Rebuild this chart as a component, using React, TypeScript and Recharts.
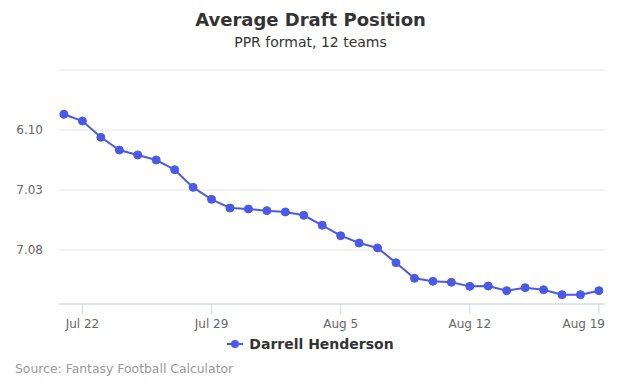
import React from 'react';
import { LineChart, Line, XAxis, YAxis, CartesianGrid } from 'recharts';

// days since Jul 21, one point per day
const days = [
  0, 1, 2, 3, 4, 5, 6, 7, 8, 9, 10, 11, 12, 13, 14,
  15, 16, 17, 18, 19, 20, 21, 22, 23, 24, 25, 26, 27, 28, 29,
];

// overall pick (12 teams) for Darrell Henderson
const adp = [
  68.69, 69.25, 70.61, 71.67, 72.08, 72.5, 73.31, 74.78, 75.78, 76.5,
  76.58, 76.72, 76.83, 77.11, 77.94, 78.81, 79.42, 79.83, 81.06, 82.36,
  82.61, 82.69, 83.03, 83.0, 83.39, 83.14, 83.31, 83.72, 83.72, 83.39,
];

const xTicks = [1, 8, 15, 22, 29];
const xTickLabels = ['Jul 22', 'Jul 29', 'Aug 5', 'Aug 12', 'Aug 19'];

const yTicks = [65, 70, 75, 80];
const yTickLabels = ['', '6.10', '7.03', '7.08'];

const seriesName = 'Darrell Henderson';
const color = '#4a5ae8';
const font = '"DejaVu Sans", sans-serif';

const data = days.map((d, i) => ({ day: d, adp: adp[i] }));

// last label is pulled in so it stays inside the plot, like the original
const XTick = (props: any) => {
  const { x, y, payload, index } = props;
  const label = xTickLabels[xTicks.indexOf(payload.value)] ?? '';
  const last = index === xTicks.length - 1;
  return (
    <text
      x={last ? 605 : x}
      y={y + 12}
      textAnchor={last ? 'end' : 'middle'}
      fill="#666"
      fontSize={12}
      fontFamily={font}
    >
      {label}
    </text>
  );
};

const App: React.FC = () => {
  return (
    <div style={{ position: 'absolute', left: 0, top: 0, width: 621, height: 388, background: '#fff', fontFamily: font }}>
      <div style={{ position: 'absolute', top: 9, width: 621, textAlign: 'center', fontSize: 18, fontWeight: 'bold', color: '#333' }}>
        Average Draft Position
      </div>
      <div style={{ position: 'absolute', top: 34, width: 621, textAlign: 'center', fontSize: 14, color: '#333' }}>
        PPR format, 12 teams
      </div>

      <LineChart
        width={621}
        height={388}
        data={data}
        margin={{ top: 70, right: 16, bottom: 54, left: 0 }}
        style={{ position: 'absolute', left: 0, top: 0 }}
      >
        <CartesianGrid vertical={false} stroke="#e6e6e6" />
        <XAxis
          dataKey="day"
          type="number"
          domain={[-0.27, 29.33]}
          ticks={xTicks}
          height={30}
          tickSize={10}
          tickMargin={2}
          axisLine={{ stroke: '#ccd6eb' }}
          tickLine={{ stroke: '#ccd6eb' }}
          tick={<XTick />}
          allowDataOverflow
        />
        <YAxis
          reversed
          type="number"
          domain={[65, 84.5]}
          ticks={yTicks}
          tickFormatter={(v: number) => yTickLabels[yTicks.indexOf(v)] ?? ''}
          width={59}
          tickSize={0}
          tickMargin={16}
          axisLine={false}
          tickLine={false}
          tick={{ fill: '#666', fontSize: 12, fontFamily: font }}
          allowDataOverflow
        />
        <Line
          dataKey="adp"
          stroke={color}
          strokeWidth={2}
          dot={{ r: 4, fill: color, stroke: color, strokeWidth: 1 }}
          isAnimationActive={false}
        />
      </LineChart>

      <div style={{ position: 'absolute', top: 336, width: 621, display: 'flex', justifyContent: 'center', alignItems: 'center' }}>
        <svg width={16} height={12} style={{ marginRight: 6 }}>
          <line x1={0} y1={6} x2={16} y2={6} stroke={color} strokeWidth={2} />
          <circle cx={8} cy={6} r={4} fill={color} />
        </svg>
        <span style={{ fontSize: 14, fontWeight: 'bold', color: '#333' }}>{seriesName}</span>
      </div>

      <div style={{ position: 'absolute', left: 15, top: 361, fontSize: 12.4, color: '#999' }}>
        Source: Fantasy Football Calculator
      </div>
    </div>
  );
};

export default App;
